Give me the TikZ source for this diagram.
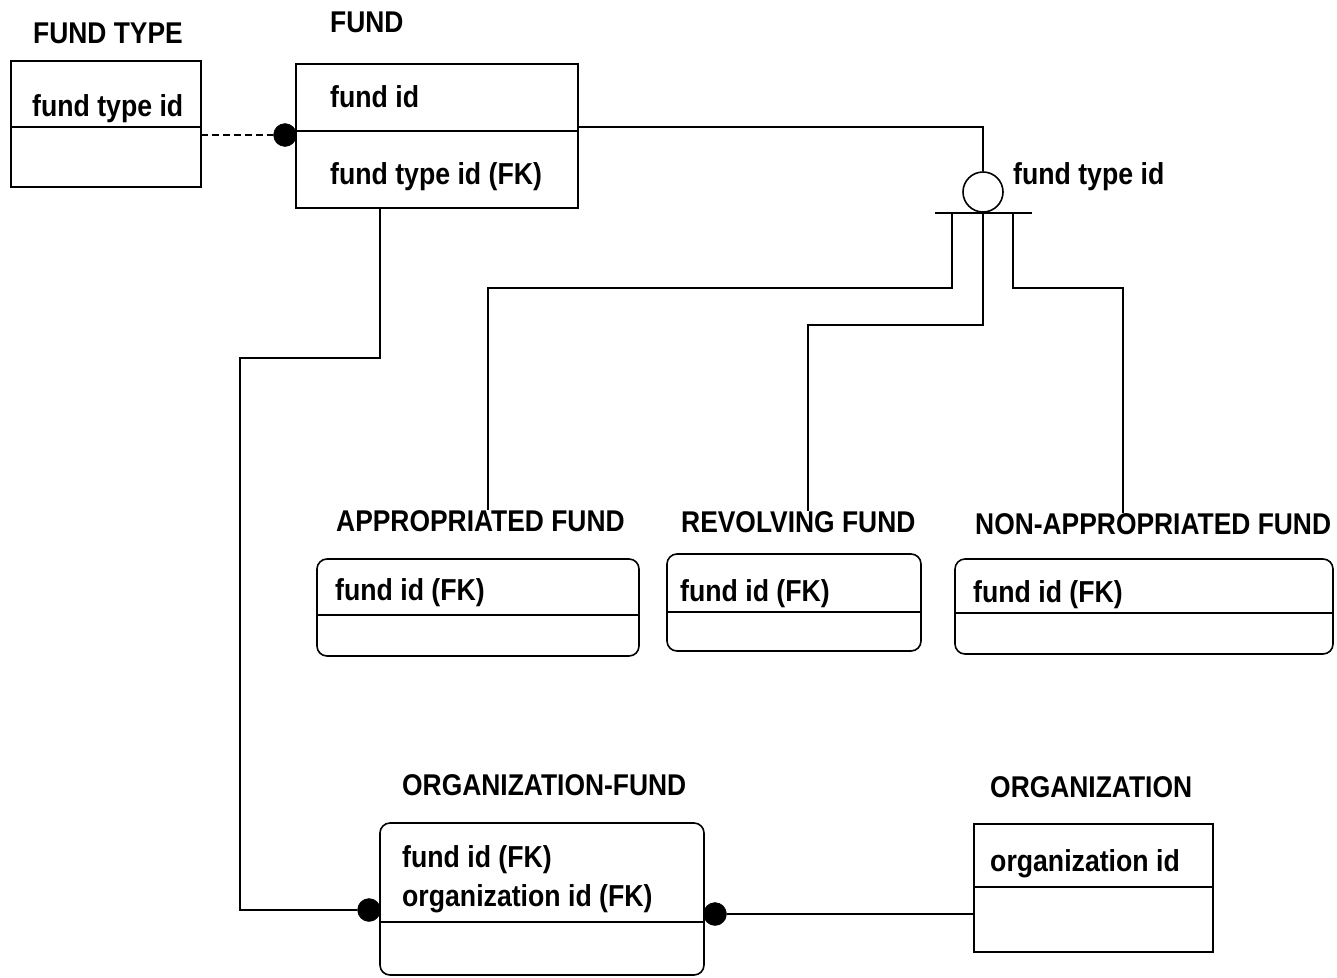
\documentclass[tikz,border=0pt]{standalone}
\usepackage{fontspec}
\setmainfont{Liberation Sans}
\newfontfamily\hv[FakeStretch=0.88]{Liberation Sans Bold}
\tikzset{
  ent/.style={draw, line width=1.6pt, inner sep=0pt, outer sep=0pt},
  rnd/.style={ent, rounded corners=10pt},
  ttl/.style={anchor=base west, inner sep=0pt, font=\hv\fontsize{30}{30}\selectfont},
  att/.style={anchor=base west, inner sep=0pt, font=\hv\fontsize{30.3}{30}\selectfont},
  dot/.style={circle, fill=black, draw=black, inner sep=0pt, minimum size=23pt},
  conn/.style={line width=1.6pt},
}
\begin{document}
\begin{tikzpicture}[x=1pt,y=-1pt]
\useasboundingbox (0,0) rectangle (1337,977);
% entities
\node[ent, minimum width=190pt, minimum height=126pt] (ft) at (106,124) {};
\node[ent, minimum width=282pt, minimum height=144pt] (fund) at (437,136) {};
\node[rnd, minimum width=322pt, minimum height=97pt] (app) at (478,607.5) {};
\node[rnd, minimum width=254pt, minimum height=97pt] (rev) at (794,602.5) {};
\node[rnd, minimum width=378pt, minimum height=95pt] (non) at (1144,606.5) {};
\node[rnd, minimum width=324pt, minimum height=152pt] (of) at (542,899) {};
\node[ent, minimum width=239pt, minimum height=128pt] (org) at (1093.5,888) {};
% dividers
\draw[conn] (ft.west |- 0,127) -- (ft.east |- 0,127);
\draw[conn] (fund.west |- 0,131) -- (fund.east |- 0,131);
\draw[conn] (app.west |- 0,615) -- (app.east |- 0,615);
\draw[conn] (rev.west |- 0,612) -- (rev.east |- 0,612);
\draw[conn] (non.west |- 0,613) -- (non.east |- 0,613);
\draw[conn] (of.west |- 0,922) -- (of.east |- 0,922);
\draw[conn] (org.west |- 0,887) -- (org.east |- 0,887);
% titles
\node[ttl] (ftt) at (33,43) {FUND TYPE};
\node[ttl] (fundt) at (330,32) {FUND};
\node[ttl] (appt) at (336,531) {APPROPRIATED FUND};
\node[ttl] (revt) at (681,532) {REVOLVING FUND};
\node[ttl] (nont) at (975,534) {NON-APPROPRIATED FUND};
\node[ttl] (oft) at (402,795) {ORGANIZATION-FUND};
\node[ttl] (orgt) at (990,797) {ORGANIZATION};
% attributes
\node[att] (a1) at (32,116) {fund type id};
\node[att] (a2) at (330,107) {fund id};
\node[att] (a3) at (330,184) {fund type id (FK)};
\node[att] (a4) at (335,600) {fund id (FK)};
\node[att] (a5) at (680,601) {fund id (FK)};
\node[att] (a6) at (973,602) {fund id (FK)};
\node[att] (a7) at (402,867) {fund id (FK)};
\node[att] (a8) at (402,906) {organization id (FK)};
\node[att] (a9) at (990,871) {organization id};
% subtype symbol
\node[circle, draw, line width=1.6pt, inner sep=0pt, minimum size=40pt] (sub) at (983,192) {};
\node[att] (subl) at (1013,184) {fund type id};
\coordinate (barL) at (935,213);
\coordinate (barR) at (1032,213);
\coordinate (bL) at (952,213);
\coordinate (bR) at (1013,213);
\draw[conn] (barL) -- (barR);
% connectors
\node[dot] (d1) at (285,135) {};
\draw[conn, dashed, dash pattern=on 7pt off 4pt] (ft.east |- d1) -- (d1);
\draw[conn] (fund.east |- 0,127) -| (sub.north);
\draw[conn] (bL) -- (952,288) -| (488,0 |- appt.north);
\draw[conn] (sub.south) -- (983,325) -| (808,0 |- revt.north);
\draw[conn] (bR) -- (1013,288) -| (1123,0 |- nont.north);
\node[dot] (d2) at (369,910) {};
\node[dot] (d3) at (715,914) {};
\draw[conn] (380,0 |- fund.south) |- (240,358) |- (d2);
\draw[conn] (d3) -- (org.west |- d3);
\end{tikzpicture}
\end{document}
